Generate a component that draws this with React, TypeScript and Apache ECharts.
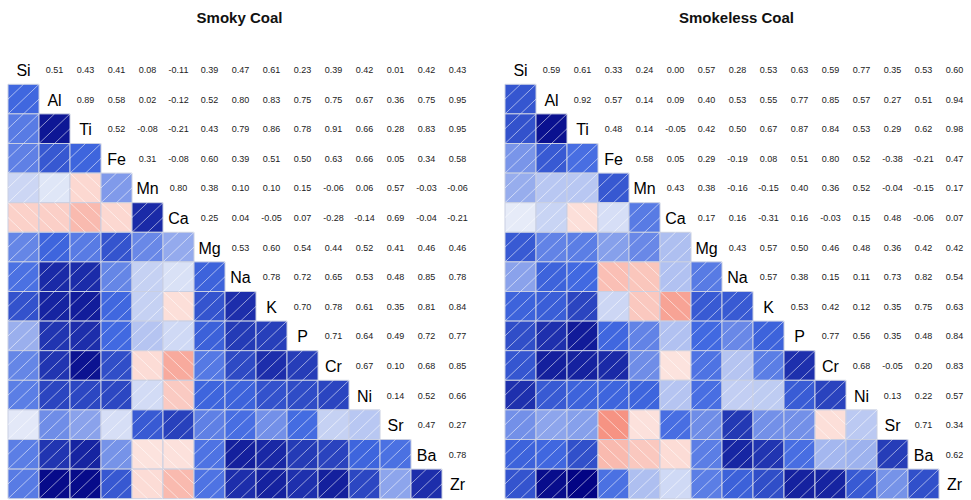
import React, { useEffect, useRef } from 'react';
import * as echarts from 'echarts';

const elements = ['Si', 'Al', 'Ti', 'Fe', 'Mn', 'Ca', 'Mg', 'Na', 'K', 'P', 'Cr', 'Ni', 'Sr', 'Ba', 'Zr'];

const titles = ['Smoky Coal', 'Smokeless Coal'];

// Upper-triangle correlations, row i holds values for columns i+1..n-1
const smokyUpper: number[][] = [
  [0.51, 0.43, 0.41, 0.08, -0.11, 0.39, 0.47, 0.61, 0.23, 0.39, 0.42, 0.01, 0.42, 0.43],
  [0.89, 0.58, 0.02, -0.12, 0.52, 0.80, 0.83, 0.75, 0.75, 0.67, 0.36, 0.75, 0.95],
  [0.52, -0.08, -0.21, 0.43, 0.79, 0.86, 0.78, 0.91, 0.66, 0.28, 0.83, 0.95],
  [0.31, -0.08, 0.60, 0.39, 0.51, 0.50, 0.63, 0.66, 0.05, 0.34, 0.58],
  [0.80, 0.38, 0.10, 0.10, 0.15, -0.06, 0.06, 0.57, -0.03, -0.06],
  [0.25, 0.04, -0.05, 0.07, -0.28, -0.14, 0.69, -0.04, -0.21],
  [0.53, 0.60, 0.54, 0.44, 0.52, 0.41, 0.46, 0.46],
  [0.78, 0.72, 0.65, 0.53, 0.48, 0.85, 0.78],
  [0.70, 0.78, 0.61, 0.35, 0.81, 0.84],
  [0.71, 0.64, 0.49, 0.72, 0.77],
  [0.67, 0.10, 0.68, 0.85],
  [0.14, 0.52, 0.66],
  [0.47, 0.27],
  [0.78],
];

const smokelessUpper: number[][] = [
  [0.59, 0.61, 0.33, 0.24, 0.00, 0.57, 0.28, 0.53, 0.63, 0.59, 0.77, 0.35, 0.53, 0.60],
  [0.92, 0.57, 0.14, 0.09, 0.40, 0.53, 0.55, 0.77, 0.85, 0.57, 0.27, 0.51, 0.94],
  [0.48, 0.14, -0.05, 0.42, 0.50, 0.67, 0.87, 0.84, 0.53, 0.29, 0.62, 0.98],
  [0.58, 0.05, 0.29, -0.19, 0.08, 0.51, 0.80, 0.52, -0.38, -0.21, 0.47],
  [0.43, 0.38, -0.16, -0.15, 0.40, 0.36, 0.52, -0.04, -0.15, 0.17],
  [0.17, 0.16, -0.31, 0.16, -0.03, 0.15, 0.48, -0.06, 0.07],
  [0.43, 0.57, 0.50, 0.46, 0.48, 0.36, 0.42, 0.42],
  [0.57, 0.38, 0.15, 0.11, 0.73, 0.82, 0.54],
  [0.53, 0.42, 0.12, 0.35, 0.75, 0.63],
  [0.77, 0.56, 0.35, 0.48, 0.84],
  [0.68, -0.05, 0.20, 0.83],
  [0.13, 0.22, 0.57],
  [0.71, 0.34],
  [0.62],
];

const FONT = '"Liberation Sans", Arial, Helvetica, sans-serif';

const negStops: [number, number[]][] = [
  [0, [253, 234, 230]],
  [0.5, [244, 120, 100]],
  [1, [178, 24, 43]],
];
const posStops: [number, number[]][] = [
  [0, [230, 235, 248]],
  [0.5, [65, 105, 225]],
  [1, [0, 0, 128]],
];

function ramp(stops: [number, number[]][], a: number): number[] {
  for (let k = 0; k < stops.length - 1; k++) {
    const [p, cp] = stops[k];
    const [q, cq] = stops[k + 1];
    if (a >= p && a <= q) {
      const t = (a - p) / (q - p);
      return cp.map((x, i) => Math.round(x + (cq[i] - x) * t));
    }
  }
  return stops[stops.length - 1][1];
}

function corrColor(v: number): string {
  const c = v < 0 ? ramp(negStops, -v) : ramp(posStops, v);
  return `rgb(${c[0]},${c[1]},${c[2]})`;
}

function buildFull(upper: number[][]): number[][] {
  const n = elements.length;
  const m: number[][] = Array.from({ length: n }, () => Array(n).fill(1));
  upper.forEach((row, i) =>
    row.forEach((v, k) => {
      const j = i + 1 + k;
      m[i][j] = v;
      m[j][i] = v;
    })
  );
  return m;
}

function makeSeries(upper: number[][], gi: number): any[] {
  const m = buildFull(upper);
  const n = elements.length;
  const cells: number[][] = [];
  const nums: number[][] = [];
  const diag: number[][] = [];
  for (let i = 0; i < n; i++) {
    for (let j = 0; j < n; j++) {
      if (i > j) cells.push([j, i, m[i][j]]);
      else if (i < j) nums.push([j, i, m[i][j]]);
      else diag.push([j, i, i]);
    }
  }
  return [
    {
      type: 'custom',
      xAxisIndex: gi,
      yAxisIndex: gi,
      data: cells,
      renderItem: (params: any, api: any) => {
        const c = api.coord([api.value(0), api.value(1)]);
        const s = api.size([1, 1]);
        const w = s[0];
        const h = s[1];
        const x0 = c[0] - w / 2;
        const y0 = c[1] - h / 2;
        const v = api.value(2);
        const lines =
          v >= 0
            ? [
                [x0, y0 + h, x0 + w, y0],
                [x0, y0 + h / 2, x0 + w / 2, y0],
                [x0 + w / 2, y0 + h, x0 + w, y0 + h / 2],
              ]
            : [
                [x0, y0, x0 + w, y0 + h],
                [x0 + w / 2, y0, x0 + w, y0 + h / 2],
                [x0, y0 + h / 2, x0 + w / 2, y0 + h],
              ];
        return {
          type: 'group',
          children: [
            {
              type: 'rect',
              shape: { x: x0, y: y0, width: w, height: h },
              style: { fill: corrColor(v), stroke: '#c9cfe2', lineWidth: 1 },
            },
            ...lines.map((l) => ({
              type: 'line',
              shape: { x1: l[0], y1: l[1], x2: l[2], y2: l[3] },
              style: { stroke: 'rgba(255,255,255,0.6)', lineWidth: 0.9 },
            })),
          ],
        };
      },
    },
    {
      type: 'custom',
      xAxisIndex: gi,
      yAxisIndex: gi,
      data: nums,
      renderItem: (params: any, api: any) => {
        const c = api.coord([api.value(0), api.value(1)]);
        return {
          type: 'text',
          style: {
            text: Number(api.value(2)).toFixed(2),
            x: c[0],
            y: c[1] + 0.5,
            align: 'center',
            verticalAlign: 'middle',
            fontSize: 9,
            fontFamily: FONT,
            fill: '#222',
          },
        };
      },
    },
    {
      type: 'custom',
      xAxisIndex: gi,
      yAxisIndex: gi,
      data: diag,
      renderItem: (params: any, api: any) => {
        const c = api.coord([api.value(0), api.value(1)]);
        return {
          type: 'text',
          style: {
            text: elements[api.value(2)],
            x: c[0],
            y: c[1] + 1,
            align: 'center',
            verticalAlign: 'middle',
            fontSize: 16,
            fontFamily: FONT,
            fill: '#000',
          },
        };
      },
    },
  ];
}

export default function App() {
  const ref = useRef<HTMLDivElement>(null);
  useEffect(() => {
    if (!ref.current) return;
    const chart = echarts.init(ref.current, undefined, { renderer: 'svg' });
    const gridW = 465;
    const gridH = 444;
    const lefts = [8, 505];
    const option: any = {
      animation: false,
      backgroundColor: '#ffffff',
      grid: lefts.map((l) => ({ left: l, top: 54.7, width: gridW, height: gridH })),
      xAxis: lefts.map((_, gi) => ({
        type: 'category',
        gridIndex: gi,
        data: elements,
        show: false,
      })),
      yAxis: lefts.map((_, gi) => ({
        type: 'category',
        gridIndex: gi,
        data: elements,
        inverse: true,
        show: false,
      })),
      graphic: titles.map((t, gi) => ({
        type: 'text',
        x: lefts[gi] + gridW / 2 - 1,
        y: 17,
        style: {
          text: t,
          align: 'center',
          verticalAlign: 'middle',
          fontSize: 15,
          fontWeight: 'bold',
          fontFamily: FONT,
          fill: '#111',
        },
      })),
      series: [...makeSeries(smokyUpper, 0), ...makeSeries(smokelessUpper, 1)],
    };
    chart.setOption(option);
    return () => chart.dispose();
  }, []);
  return (
    <div
      ref={ref}
      style={{ position: 'absolute', left: 0, top: 0, width: 971, height: 500 }}
    />
  );
}
